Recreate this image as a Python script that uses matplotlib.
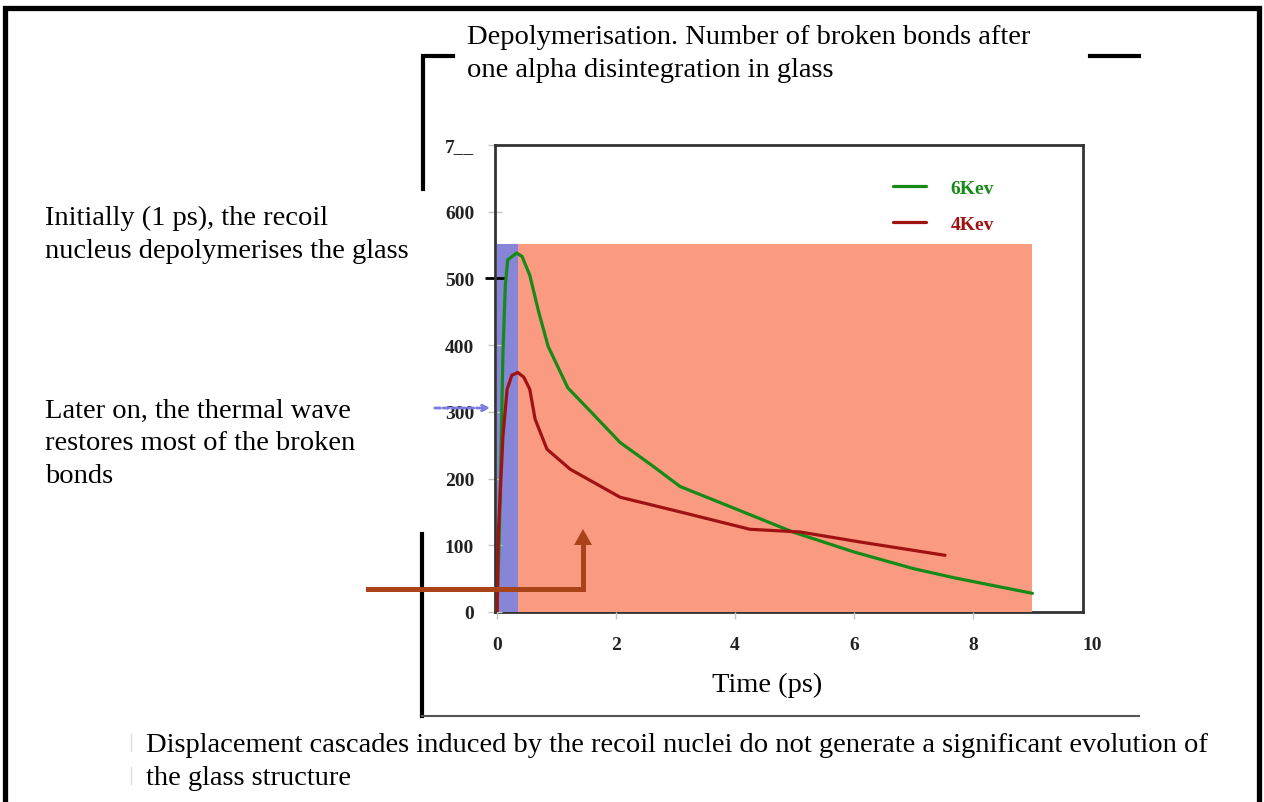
import matplotlib
matplotlib.use("Agg")
import matplotlib.pyplot as plt
from matplotlib.patches import Polygon

# data
green_x = [0, 0.04, 0.1, 0.14, 0.18, 0.33, 0.42, 0.55, 0.7, 0.86, 1.19, 1.6, 2.07, 2.6, 3.08, 4.0, 4.97, 6.0, 7.0, 7.7, 9.0]
green_y = [0, 120, 390, 490, 528, 538, 533, 505, 450, 398, 336, 298, 254, 220, 188, 155, 120, 90, 65, 51, 28]
red_x = [0, 0.02, 0.1, 0.17, 0.25, 0.35, 0.45, 0.55, 0.64, 0.84, 1.23, 2.07, 3.08, 4.25, 5.09, 6.1, 7.53]
red_y = [0, 114, 264, 334, 355, 359, 352, 334, 289, 244, 214, 172, 150, 124, 120, 105, 85]
series_labels = ["6Kev", "4Kev"]

# shaded phases: (start, end, height)
initial_phase = (0, 0.35, 551)
thermal_phase = (0.35, 9.0, 551)

x_ticks = [0, 2, 4, 6, 8]
y_ticks = [0, 100, 200, 300, 400, 500, 600, 700]
y_tick_labels = ["0", "100", "200", "300", "400", "500", "600", "7__"]

title_text = "Depolymerisation. Number of broken bonds after\none alpha disintegration in glass"
note_initial = "Initially (1 ps), the recoil\nnucleus depolymerises the glass"
note_later = "Later on, the thermal wave\nrestores most of the broken\nbonds"
bottom_text = ("Displacement cascades induced by the recoil nuclei do not generate a significant evolution of\n"
               "the glass structure")

W, H = 1264, 803
serif = "Liberation Serif"
plt.rcParams['font.family'] = [serif, 'DejaVu Serif']
TXT = 20.5
TICK = 14

fig = plt.figure(figsize=(W / 100, H / 100), dpi=100)

# main chart axes (pixel box 495..1083 x 146..613)
ax = fig.add_axes([495 / W, (H - 613) / H, 588 / W, 467 / H])
ax.set_xlim(-0.034, 9.85)
ax.set_ylim(0, 700)

ax.fill_between([initial_phase[0], initial_phase[1]], 0, initial_phase[2],
                color="#8785d8", lw=0, zorder=1)
ax.fill_between([thermal_phase[0], thermal_phase[1]], 0, thermal_phase[2],
                color="#fa9a81", lw=0, zorder=1)

g_line, = ax.plot(green_x, green_y, color="#168a16", lw=2.3, zorder=3, solid_capstyle="round")
r_line, = ax.plot(red_x, red_y, color="#a01212", lw=2.3, zorder=3, solid_capstyle="round")

for s in ax.spines.values():
    s.set_color("#333333")
    s.set_linewidth(2)
ax.spines['bottom'].set_zorder(0.5)

ax.set_xticks(x_ticks)
ax.set_xticklabels([str(v) for v in x_ticks])
ax.set_yticks(y_ticks)
ax.set_yticklabels(y_tick_labels)
ax.tick_params(axis="both", colors="#c4c4c4", width=1, labelcolor="#222222",
               labelsize=TICK)
ax.tick_params(axis="x", length=5, pad=12)
ax.tick_params(axis="y", direction="inout", length=10, pad=10)
for lab in ax.get_xticklabels() + ax.get_yticklabels():
    lab.set_fontweight("bold")
# the 500 tick is drawn darker and longer on the slide
t500 = ax.yaxis.get_major_ticks()[5]
t500.tick1line.set_marker("_")
t500.tick1line.set_markeredgecolor("black")
t500.tick1line.set_markersize(15)
t500.tick1line.set_markeredgewidth(2)
ax.text(10, -0.07, "10", transform=ax.get_xaxis_transform(), ha="center", va="center",
        fontsize=TICK, fontweight="bold", color="#222222", clip_on=False)

leg = ax.legend([g_line, r_line], series_labels, loc="upper left",
                bbox_to_anchor=(875 / W, (H - 163) / H), bbox_transform=fig.transFigure,
                frameon=False, handlelength=1.7, handletextpad=1.3, labelspacing=0.95,
                prop={"family": serif, "weight": "bold", "size": TICK})
for txt, c in zip(leg.get_texts(), ["#168a16", "#a01212"]):
    txt.set_color(c)

# overlay in pixel coordinates for slide decorations
ov = fig.add_axes([0, 0, 1, 1], zorder=5)
ov.set_xlim(0, W)
ov.set_ylim(H, 0)
ov.axis("off")
ov.patch.set_alpha(0)

# slide border
ov.plot([5, 5, 1259, 1259], [H, 9, 9, H], color="black", lw=3.8, solid_joinstyle="miter")
# bracket around the chart
ov.plot([453, 423, 423], [57, 57, 190], color="black", lw=3, solid_joinstyle="miter")
ov.plot([422, 422], [535, 717], color="black", lw=3)
ov.plot([422, 1139], [717, 717], color="#555555", lw=1.5)
ov.plot([1090, 1139], [57, 57], color="black", lw=3)

# blue dotted arrow over the 300 label
ov.annotate("", xy=(493, 409), xytext=(432, 409),
            arrowprops=dict(arrowstyle="->", color="#7a7ae0", lw=2, ls=(0, (2, 1))))

# brown arrow
brown = "#a8431a"
ov.plot([368, 583, 583], [590, 590, 544], color=brown, lw=3.6, solid_joinstyle="miter")
ov.add_patch(Polygon([[574, 546], [592, 546], [583, 530]], closed=True, color=brown, lw=0))

# faint bullet marks
ov.plot([131, 131], [735, 752], color="#dddde8", lw=1)
ov.plot([131, 131], [768, 785], color="#dddde8", lw=1)

ov.text(467, 54, title_text, fontsize=TXT, ha="left", va="center", linespacing=1.45)
ov.text(45, 235, note_initial, fontsize=TXT, ha="left", va="center", linespacing=1.42)
ov.text(45, 444, note_later, fontsize=TXT, ha="left", va="center", linespacing=1.4)
ov.text(767, 685, "Time (ps)", fontsize=TXT, ha="center", va="center")
ov.text(146, 762, bottom_text, fontsize=TXT, ha="left", va="center", linespacing=1.42)

fig.savefig("out.png", dpi=100)
